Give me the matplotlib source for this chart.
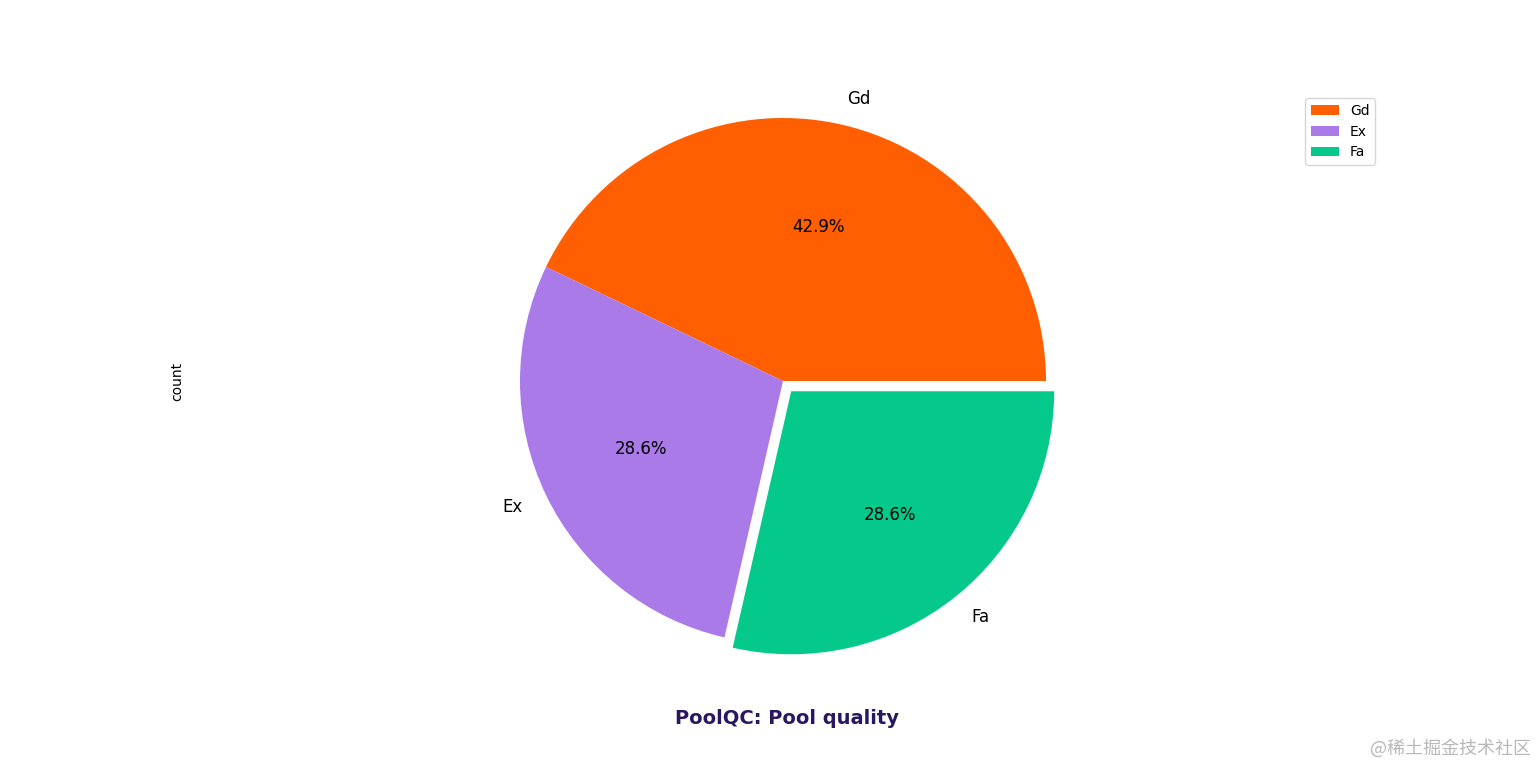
import matplotlib
matplotlib.use("Agg")
import matplotlib.pyplot as plt

# PoolQC value counts
categories = ["Gd", "Ex", "Fa"]
counts = [3, 2, 2]
explode = [0, 0, 0.05]
colors = ["#ff5f00", "#ab7ae9", "#04c98a"]
title = "PoolQC: Pool quality"

fig = plt.figure(figsize=(15.36, 7.65), dpi=100)

# pixel layout: pie centre (783, 381), radius 263 px
W, H = 1536, 765
cx, cy, r = 783, 381, 263
left, right = 190, 1376
top, bottom = 80, 682
ax = fig.add_axes([left / W, 1 - bottom / H, (right - left) / W, (bottom - top) / H])

ax.pie(counts, labels=categories, explode=explode, colors=colors,
       autopct="%1.1f%%", startangle=0, textprops={"fontsize": 12})
ax.set_aspect("auto")
ax.set_xlim(-(cx - left) / r, (right - cx) / r)
ax.set_ylim(-(bottom - cy) / r, (cy - top) / r)
ax.set_ylabel("count", fontsize=10)

ax.legend(loc="upper right", bbox_to_anchor=(1375 / W, 1 - 98 / H),
          bbox_transform=fig.transFigure, borderaxespad=0, fontsize=10)

fig.text(787 / W, 1 - 719 / H, title, ha="center", va="center",
         fontsize=14, fontweight="bold", color="#2a1760")

fig.text(1531 / W, 1 - 748 / H, "@稀土掘金技术社区", ha="right", va="center",
         fontsize=13, color="#b8b8b8", family=["Noto Sans CJK SC", "DejaVu Sans"])

fig.savefig("out.png", dpi=100)
